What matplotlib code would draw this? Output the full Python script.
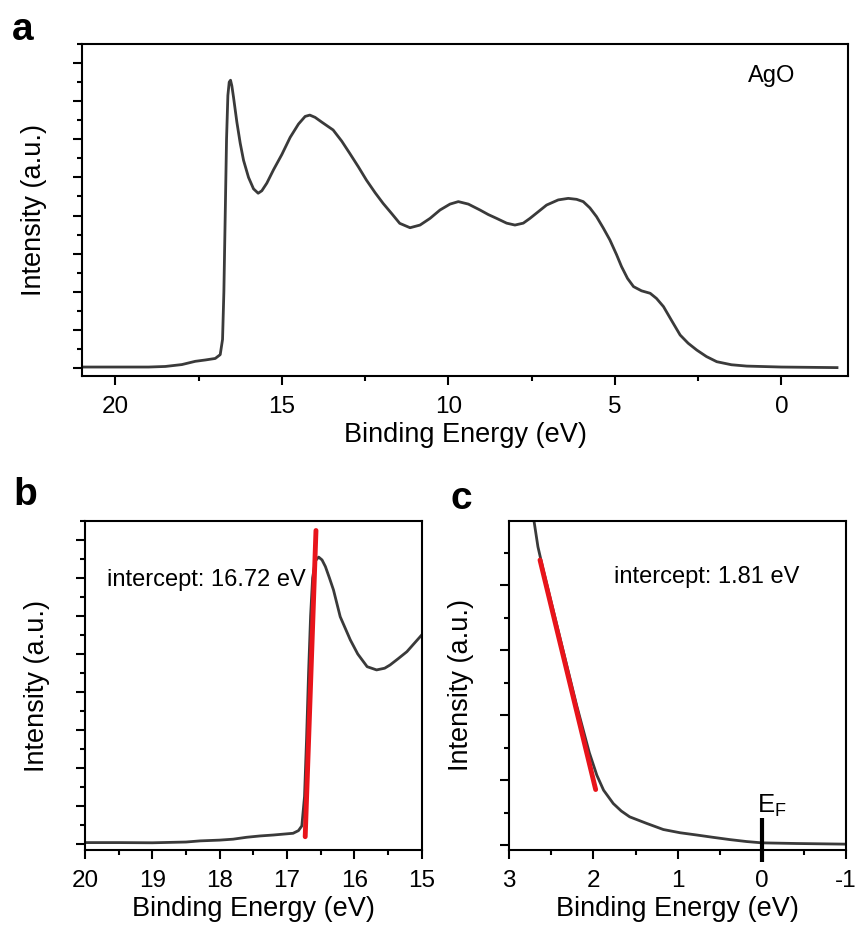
import matplotlib
matplotlib.use("Agg")
import matplotlib.pyplot as plt
from matplotlib.ticker import MultipleLocator

plt.rcParams['font.family'] = ['Liberation Sans', 'DejaVu Sans']
plt.rcParams['axes.unicode_minus'] = False
plt.rcParams['mathtext.default'] = 'regular'

# ---- Panel a: full valence-band spectrum of AgO ----
energy_a = [21.0, 20.0, 19.0, 18.5, 18.0, 17.6, 17.3, 17.0, 16.85, 16.78, 16.74, 16.70,
            16.66, 16.62, 16.58, 16.54, 16.50, 16.45, 16.35, 16.25, 16.15, 16.0, 15.85,
            15.71, 15.6, 15.45, 15.25, 15.0, 14.75, 14.5, 14.3, 14.16, 14.0, 13.8, 13.46,
            13.2, 12.96, 12.7, 12.46, 12.2, 11.96, 11.7, 11.46, 11.15, 10.85, 10.55, 10.25,
            9.95, 9.70, 9.4, 9.05, 8.8, 8.55, 8.25, 8.0, 7.75, 7.55, 7.3, 7.05, 6.7, 6.40,
            6.15, 5.95, 5.75, 5.55, 5.35, 5.15, 4.95, 4.80, 4.62, 4.44, 4.2, 3.94, 3.75,
            3.54, 3.3, 3.04, 2.8, 2.54, 2.25, 1.94, 1.5, 1.04, 0.0, -1.67]
intensity_a = [0.05, 0.05, 0.05, 0.08, 0.18, 0.35, 0.42, 0.5, 0.7, 1.5, 4.0, 8.0,
               12.0, 14.3, 15.0, 15.1, 14.8, 14.2, 12.9, 11.8, 10.9, 10.0, 9.4,
               9.17, 9.3, 9.7, 10.4, 11.2, 12.1, 12.8, 13.2, 13.27, 13.15, 12.9, 12.49,
               11.9, 11.26, 10.55, 9.86, 9.2, 8.64, 8.1, 7.59, 7.36, 7.5, 7.85, 8.29,
               8.6, 8.73, 8.6, 8.29, 8.05, 7.85, 7.6, 7.5, 7.6, 7.85, 8.2, 8.55, 8.82, 8.9,
               8.85, 8.73, 8.4, 7.94, 7.35, 6.72, 5.95, 5.32, 4.7, 4.27, 4.05, 3.92, 3.65,
               3.22, 2.5, 1.73, 1.3, 0.94, 0.6, 0.33, 0.17, 0.1, 0.05, 0.02]

# ---- Panel b: secondary-electron cutoff ----
energy_b = [20.0, 19.5, 19.0, 18.5, 18.29, 18.0, 17.80, 17.6, 17.40, 17.2, 16.91, 16.83,
            16.78, 16.74, 16.71, 16.68, 16.65, 16.62, 16.58, 16.53, 16.48, 16.43, 16.37,
            16.31, 16.21, 16.06, 15.95, 15.81, 15.67, 15.55, 15.47, 15.35, 15.22, 15.1, 15.0]
intensity_b = [0.07, 0.07, 0.06, 0.1, 0.16, 0.2, 0.25, 0.35, 0.42, 0.47, 0.56, 0.7,
               0.95, 2.5, 5.5, 9.0, 12.0, 14.0, 14.9, 15.1, 14.95, 14.6, 14.0,
               13.37, 11.96, 10.74, 10.0, 9.33, 9.16, 9.25, 9.42, 9.75, 10.12, 10.6, 11.0]
fit_energy_b = [16.73, 16.57]
fit_intensity_b = [0.38, 16.5]
label_b = "intercept: 16.72 eV"

# ---- Panel c: valence-band edge ----
energy_c = [2.72, 2.66, 2.60, 2.4, 2.2, 2.05, 1.96, 1.88, 1.765, 1.67, 1.57, 1.37, 1.17,
            0.97, 0.77, 0.58, 0.38, 0.18, 0.0, -0.41, -1.0]
intensity_c = [10.2, 9.18, 8.5, 6.4, 4.3, 2.85, 2.15, 1.69, 1.28, 1.05, 0.87, 0.67, 0.48,
               0.38, 0.31, 0.24, 0.17, 0.11, 0.07, 0.05, 0.03]
fit_energy_c = [2.635, 1.974]
fit_intensity_c = [8.77, 1.71]
label_c = "intercept: 1.81 eV"
fermi_energy = 0.0
fermi_span = [-0.51, 0.82]

W, H = 857, 925
fig = plt.figure(figsize=(W / 100, H / 100), dpi=100)

line_col = '#3a3a3a'
fs_tick = 17.5
fs_lab = 19.5
fs_txt = 17

def fa(l, t, r, b):
    return [l / W, 1 - b / H, (r - l) / W, (b - t) / H]

def style(ax):
    for s in ax.spines.values():
        s.set_linewidth(1.5)
    ax.tick_params(which='major', direction='out', length=6.5, width=1.5, labelsize=fs_tick, pad=8)
    ax.tick_params(which='minor', direction='out', length=3.5, width=1.5)
    ax.tick_params(axis='y', which='both', labelleft=False)
    ax.set_xlabel('Binding Energy (eV)', fontsize=fs_lab, labelpad=3)
    ax.set_ylabel('Intensity (a.u.)', fontsize=fs_lab, labelpad=19)

# Panel a
axa = fig.add_axes(fa(82, 44, 848, 376))
axa.plot(energy_a, intensity_a, color=line_col, lw=2.0)
axa.set_xlim(21, -2)
axa.set_ylim(-0.42, 17.0)
axa.xaxis.set_major_locator(MultipleLocator(5))
axa.xaxis.set_minor_locator(MultipleLocator(2.5))
axa.yaxis.set_major_locator(MultipleLocator(2))
axa.yaxis.set_minor_locator(MultipleLocator(1))
style(axa)
axa.text(0.90, 0.904, 'AgO', transform=axa.transAxes, fontsize=fs_txt, ha='center', va='center')
fig.text(12 / W, 1 - 30 / H, 'a', fontsize=28, fontweight='bold', va='center', ha='left')

# Panel b
axb = fig.add_axes(fa(85, 521, 421.7, 850))
axb.plot(energy_b, intensity_b, color=line_col, lw=2.0)
axb.plot(fit_energy_b, fit_intensity_b, color='#e8141b', lw=3.5, solid_capstyle='round')
axb.set_xlim(20, 15)
axb.set_ylim(-0.32, 17.0)
axb.xaxis.set_major_locator(MultipleLocator(1))
axb.xaxis.set_minor_locator(MultipleLocator(0.5))
axb.yaxis.set_major_locator(MultipleLocator(2))
axb.yaxis.set_minor_locator(MultipleLocator(1))
style(axb)
axb.text(0.065, 0.82, label_b, transform=axb.transAxes, fontsize=fs_txt, ha='left', va='center')
fig.text(13 / W, 1 - 495 / H, 'b', fontsize=28, fontweight='bold', va='center', ha='left')

# Panel c
axc = fig.add_axes(fa(509.3, 520.7, 846, 850))
axc.plot(energy_c, intensity_c, color=line_col, lw=2.0)
axc.plot(fit_energy_c, fit_intensity_c, color='#e8141b', lw=3.5, solid_capstyle='round')
axc.plot([fermi_energy, fermi_energy], fermi_span, color='black', lw=3.0, clip_on=False,
         solid_capstyle='butt')
axc.text(fermi_energy + 0.06, 0.98, 'E$_{F}$', fontsize=18.5, ha='left', va='baseline')
axc.set_xlim(3, -1)
axc.set_ylim(-0.15, 9.98)
axc.xaxis.set_major_locator(MultipleLocator(1))
axc.xaxis.set_minor_locator(MultipleLocator(0.5))
axc.yaxis.set_major_locator(MultipleLocator(2))
axc.yaxis.set_minor_locator(MultipleLocator(1))
style(axc)
axc.text(0.31, 0.83, label_c, transform=axc.transAxes, fontsize=fs_txt, ha='left', va='center')
fig.text(450 / W, 1 - 499 / H, 'c', fontsize=28, fontweight='bold', va='center', ha='left')

fig.savefig('out.png', dpi=100)
